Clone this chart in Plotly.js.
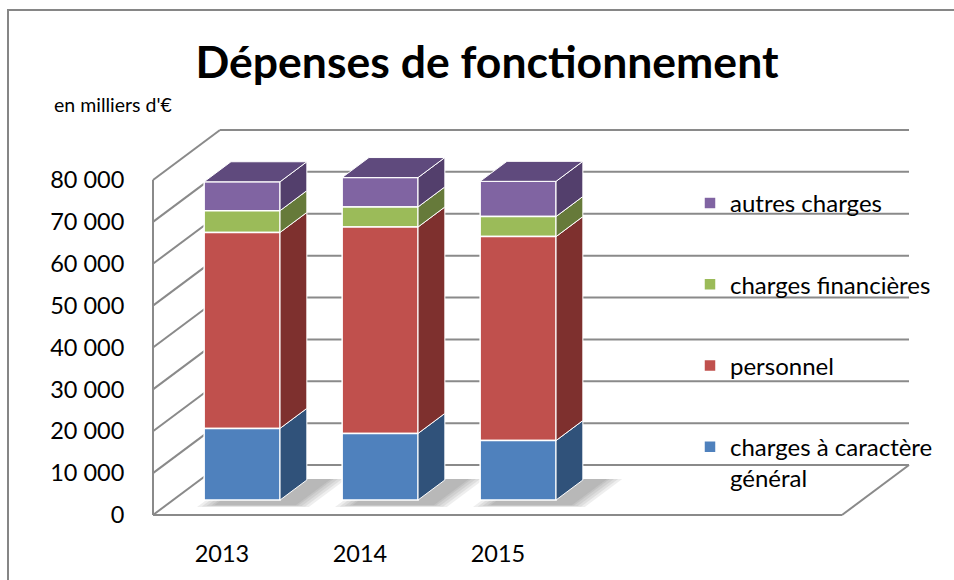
<!DOCTYPE html>
<html><head><meta charset="utf-8">
<script src="https://cdn.plot.ly/plotly-3.0.1.min.js"></script>
<style>html,body{margin:0;padding:0;background:#fff}#chart{width:954px;height:580px}</style>
</head><body><div id="chart"></div>
<script>
// ---- data ----
const years = ['2013', '2014', '2015'];
const seriesNames = ['charges à caractère<br>général', 'personnel', 'charges financières', 'autres charges'];
const chargesGenerales = [17100, 15900, 14200];
const personnel = [46800, 49300, 48700];
const chargesFinancieres = [5200, 4800, 4800];
const autresCharges = [6900, 7000, 8400];
const yTickVals = [0, 10000, 20000, 30000, 40000, 50000, 60000, 70000, 80000];

// ---- styles ----
const frontColors = ['#4F81BD', '#C0504D', '#9BBB59', '#8064A2'];
const sideColors = ['#30527A', '#7E302E', '#667A3A', '#533F6C'];
const topColor = '#5F4A7D';
const gridColor = '#8a8a8a';
const FONT = 'Lato, "Open Sans", sans-serif';

// ---- pseudo-3D geometry (pixel layout constants) ----
const PX = 335 / 80000;          // px per value unit on front plane
const CAT0 = 222, CAT_STEP = 138; // px of first category, px per category
const DX = 67 / CAT_STEP;        // x-units per full depth
const DV = 50 / PX;              // value units per full depth
const FRONT = 0.3, BACK = 0.7, BAR_W = 0.55;
const plotL = 138, plotR = 922, plotT = 118, plotB = 526;
const xRange = [(plotL - CAT0) / CAT_STEP, (plotR - CAT0) / CAT_STEP];
const yRange = [(515 - plotB) / PX, (515 - plotT) / PX];
const wallL = (153 - CAT0) / CAT_STEP;
const wallR = (909 - CAT0) / CAT_STEP;

const series = [chargesGenerales, personnel, chargesFinancieres, autresCharges];
const traces = [];
const base0 = FRONT * DV;
const depth = BACK - FRONT;

// front faces (purple first so the legend lists it on top)
const order = [3, 2, 1, 0];
order.forEach(s => {
  const vals = series[s];
  const bases = vals.map((_, i) => {
    let b = base0;
    for (let k = 0; k < s; k++) b += series[k][i];
    return b;
  });
  traces.push({
    type: 'bar', name: seriesNames[s], legendgroup: 'g' + s,
    x: years.map((_, i) => i + FRONT * DX), y: vals, base: bases, width: BAR_W,
    marker: {color: frontColors[s], line: {color: '#ffffff', width: 1.5}},
    hoverinfo: 'skip'
  });
});

// side and top faces
years.forEach((_, i) => {
  const xl = i + FRONT * DX - BAR_W / 2;
  const xr = xl + BAR_W;
  let cum = base0;
  series.forEach((vals, s) => {
    const a = cum, b = cum + vals[i];
    traces.push({
      type: 'scatter', mode: 'lines', fill: 'toself', showlegend: false, hoverinfo: 'skip',
      x: [xr, xr + depth * DX, xr + depth * DX, xr, xr],
      y: [a, a + depth * DV, b + depth * DV, b, a],
      fillcolor: sideColors[s], line: {color: '#ffffff', width: 1}
    });
    cum = b;
  });
  traces.push({
    type: 'scatter', mode: 'lines', fill: 'toself', showlegend: false, hoverinfo: 'skip',
    x: [xl, xr, xr + depth * DX, xl + depth * DX, xl],
    y: [cum, cum, cum + depth * DV, cum + depth * DV, cum],
    fillcolor: topColor, line: {color: '#ffffff', width: 1}
  });
});

// walls and gridlines
const shapes = [];
const ln = (x0, y0, x1, y1) => shapes.push({type: 'line', xref: 'x', yref: 'y', x0, y0, x1, y1, layer: 'below', line: {color: gridColor, width: 2}});
yTickVals.forEach(v => {
  ln(wallL, v, wallL + DX, v + DV);
  ln(wallL + DX, v + DV, wallR, v + DV);
});
ln(wallL, 0, wallL, yTickVals[yTickVals.length - 1]);
ln(wallL, 0, wallR - DX, 0);
ln(wallR - DX, 0, wallR, DV);

// soft floor shadows under the bars
const floorPt = (x, d) => (x + d * DX) + ',' + (d * DV);
years.forEach((_, i) => {
  const xl = i + FRONT * DX - BAR_W / 2;
  const xr = xl + BAR_W;
  [0.13, 0.1, 0.07, 0.04, 0.02].forEach(m => {
    const d0 = FRONT - 0.1 - m * 0.3, d1 = BACK + 0.02;
    shapes.push({type: 'path', xref: 'x', yref: 'y', layer: 'below',
      path: 'M' + floorPt(xl - m, d0) + 'L' + floorPt(xr + m, d0) + 'L' + floorPt(xr + m, d1) + 'L' + floorPt(xl - m, d1) + 'Z',
      fillcolor: 'rgba(90,90,90,0.10)', line: {width: 0}});
  });
});

// outer chart frame
const pw = plotR - plotL, ph = plotB - plotT;
shapes.push({type: 'rect', xref: 'paper', yref: 'paper', layer: 'below',
  x0: (8 - plotL) / pw, x1: (990 - plotL) / pw, y0: (plotB - 620) / ph, y1: (plotB - 10) / ph,
  line: {color: '#868686', width: 2}, fillcolor: 'rgba(0,0,0,0)'});

const layout = {
  width: 954, height: 580,
  margin: {l: plotL, r: 954 - plotR, t: plotT, b: 580 - plotB},
  paper_bgcolor: '#ffffff', plot_bgcolor: 'rgba(0,0,0,0)',
  barmode: 'overlay', separators: ', ',
  font: {family: FONT, color: '#000000', size: 22},
  title: {text: '<b>Dépenses de fonctionnement</b>', x: 487 / 954, xref: 'container', xanchor: 'center',
          y: 1 - 62 / 580, yref: 'container', yanchor: 'middle',
          font: {family: FONT, size: 44.5, color: '#000000'}},
  xaxis: {range: xRange, tickvals: [0, 1, 2], ticktext: years, showgrid: false, zeroline: false,
          showline: false, ticks: 'outside', ticklen: 7, tickcolor: 'rgba(0,0,0,0)',
          tickfont: {family: FONT, size: 23.5, color: '#000'}, fixedrange: true},
  yaxis: {range: yRange, tickvals: yTickVals, tickformat: ',d', showgrid: false, zeroline: false,
          showline: false, ticks: 'outside', ticklen: 8, tickcolor: 'rgba(0,0,0,0)',
          tickfont: {family: FONT, size: 23.5, color: '#000'}, fixedrange: true},
  showlegend: true,
  legend: {x: (690 - plotL) / pw, y: (plotB - 181) / ph, xanchor: 'left', yanchor: 'top',
           traceorder: 'normal+grouped', tracegroupgap: 47, valign: 'top',
           bgcolor: 'rgba(0,0,0,0)', font: {family: FONT, size: 24, color: '#000'}},
  annotations: [{text: "en milliers d'€", xref: 'paper', yref: 'paper',
                 x: (52 - plotL) / pw, y: (plotB - 105) / ph, xanchor: 'left', yanchor: 'middle',
                 showarrow: false, font: {family: FONT, size: 19.5, color: '#000'}}],
  shapes: shapes
};
Plotly.newPlot('chart', traces, layout, {displayModeBar: false, staticPlot: true});
</script></body></html>
